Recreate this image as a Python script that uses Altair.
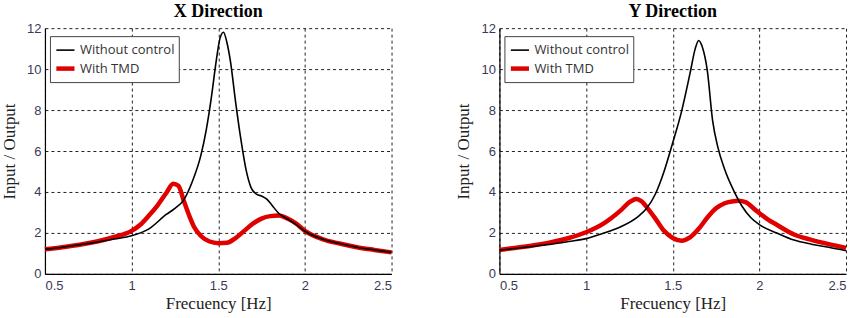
import altair as alt
import pandas as pd

SERIES = ["Without control", "With TMD"]
TITLES = ["X Direction", "Y Direction"]
X_TICKS = [0.5, 1.0, 1.5, 2.0, 2.5]
Y_TICKS = [0, 2, 4, 6, 8, 10, 12]

# X Direction - without control (black)
XN_F = [0.5, 0.6, 0.7, 0.8, 0.9, 1.0, 1.1, 1.2, 1.25, 1.3, 1.35, 1.4, 1.43, 1.46, 1.49, 1.51, 1.53,
        1.55, 1.57, 1.6, 1.63, 1.66, 1.69, 1.72, 1.75, 1.78, 1.81, 1.85, 1.9, 1.95, 2.0, 2.1, 2.2, 2.3, 2.4, 2.5]
XN_V = [1.20, 1.30, 1.42, 1.55, 1.70, 1.86, 2.2, 2.9, 3.2, 3.6, 4.5, 5.8, 7.0, 8.6, 10.5, 11.5, 11.8,
        11.3, 10.4, 8.4, 6.6, 5.1, 4.2, 3.9, 3.8, 3.65, 3.35, 2.95, 2.68, 2.4, 2.08, 1.7, 1.48, 1.3, 1.17, 1.05]
# X Direction - with TMD (red)
XT_F = [0.5, 0.6, 0.7, 0.8, 0.9, 1.0, 1.05, 1.1, 1.15, 1.2, 1.24, 1.27, 1.3, 1.33, 1.36, 1.4, 1.45, 1.5,
        1.55, 1.6, 1.65, 1.7, 1.75, 1.8, 1.85, 1.9, 1.95, 2.0, 2.1, 2.2, 2.3, 2.4, 2.5]
XT_V = [1.20, 1.30, 1.42, 1.58, 1.80, 2.10, 2.4, 2.85, 3.35, 3.95, 4.4, 4.3, 3.6, 2.9, 2.3, 1.85, 1.58, 1.5,
        1.52, 1.75, 2.1, 2.45, 2.7, 2.82, 2.85, 2.7, 2.45, 2.1, 1.7, 1.48, 1.3, 1.17, 1.05]
# Y Direction - without control (black)
YN_F = [0.5, 0.6, 0.7, 0.8, 0.9, 1.0, 1.1, 1.2, 1.3, 1.35, 1.4, 1.45, 1.5, 1.55, 1.6, 1.63, 1.65,
        1.67, 1.7, 1.73, 1.76, 1.8, 1.85, 1.9, 1.95, 2.0, 2.1, 2.2, 2.3, 2.4, 2.5]
YN_V = [1.15, 1.25, 1.35, 1.45, 1.58, 1.72, 1.98, 2.3, 2.8, 3.2, 3.9, 5.0, 6.4, 7.9, 9.8, 11.0, 11.4,
        11.1, 9.9, 7.5, 6.2, 5.1, 4.1, 3.3, 2.75, 2.4, 2.0, 1.65, 1.45, 1.3, 1.13]
# Y Direction - with TMD (red)
YT_F = [0.5, 0.6, 0.7, 0.8, 0.9, 1.0, 1.1, 1.15, 1.2, 1.25, 1.29, 1.32, 1.36, 1.4, 1.45, 1.5, 1.55,
        1.6, 1.65, 1.7, 1.75, 1.8, 1.85, 1.88, 1.92, 1.98, 2.05, 2.1, 2.2, 2.3, 2.4, 2.5]
YT_V = [1.17, 1.28, 1.40, 1.55, 1.75, 2.03, 2.45, 2.75, 3.1, 3.5, 3.66, 3.55, 3.15, 2.7, 2.1, 1.75, 1.62,
        1.78, 2.2, 2.75, 3.2, 3.45, 3.55, 3.57, 3.5, 3.1, 2.65, 2.4, 1.92, 1.66, 1.45, 1.27]


def frame(tmd_f, tmd_v, nc_f, nc_v):
    a = pd.DataFrame({"f": tmd_f, "v": tmd_v, "series": SERIES[1]})
    b = pd.DataFrame({"f": nc_f, "v": nc_v, "series": SERIES[0]})
    return pd.concat([a, b], ignore_index=True)


def panel(df, title):
    return alt.Chart(df).mark_line(interpolate="monotone").encode(
        x=alt.X("f:Q", scale=alt.Scale(domain=[0.5, 2.5], nice=False, zero=False),
                axis=alt.Axis(values=X_TICKS, format="~g", title="Frecuency [Hz]")),
        y=alt.Y("v:Q", scale=alt.Scale(domain=[0, 12], nice=False),
                axis=alt.Axis(values=Y_TICKS, format="d", title="Input / Output")),
        color=alt.Color("series:N", sort=SERIES,
                        scale=alt.Scale(domain=SERIES, range=["#000000", "#e00000"]),
                        legend=alt.Legend(title=None, orient="none", legendX=5, legendY=8)),
        strokeWidth=alt.StrokeWidth("series:N", sort=SERIES,
                                    scale=alt.Scale(domain=SERIES, range=[1.6, 4.5]),
                                    legend=alt.Legend(title=None, orient="none", legendX=5, legendY=8)),
    ).properties(width=347, height=246, title=title)


left = panel(frame(XT_F, XT_V, XN_F, XN_V), TITLES[0])
right = panel(frame(YT_F, YT_V, YN_F, YN_V), TITLES[1])

chart = alt.hconcat(left, right, spacing=108, bounds="flush").resolve_scale(
    color="independent", strokeWidth="independent"
).properties(
    padding={"left": 0, "top": 2, "right": 5, "bottom": 0}
).configure_view(stroke="transparent").configure_axis(
    domainColor="#000000", domainWidth=1.2,
    gridColor="#222222", gridDash=[3, 3], gridOpacity=1, gridWidth=1,
    ticks=False,
    labelFont="Liberation Sans", labelFontSize=13, labelColor="#3a3a55",
    titleFont="Liberation Serif", titleFontSize=17, titleFontWeight="normal", titleColor="#222222",
).configure_axisY(titlePadding=8, labelPadding=4).configure_axisX(titlePadding=3, labelPadding=6).configure_title(
    font="Liberation Serif", fontSize=18, fontWeight="bold", color="#000000", anchor="middle", offset=1
).configure_legend(
    symbolType="stroke", symbolSize=330, strokeColor="#444444", fillColor="#ffffff",
    padding=4, rowPadding=0, labelFont="Open Sans", labelFontSize=13, labelColor="#333333",
    cornerRadius=0, labelOffset=3
)

chart.save("out.html", embed_options={"renderer": "svg", "actions": False})
